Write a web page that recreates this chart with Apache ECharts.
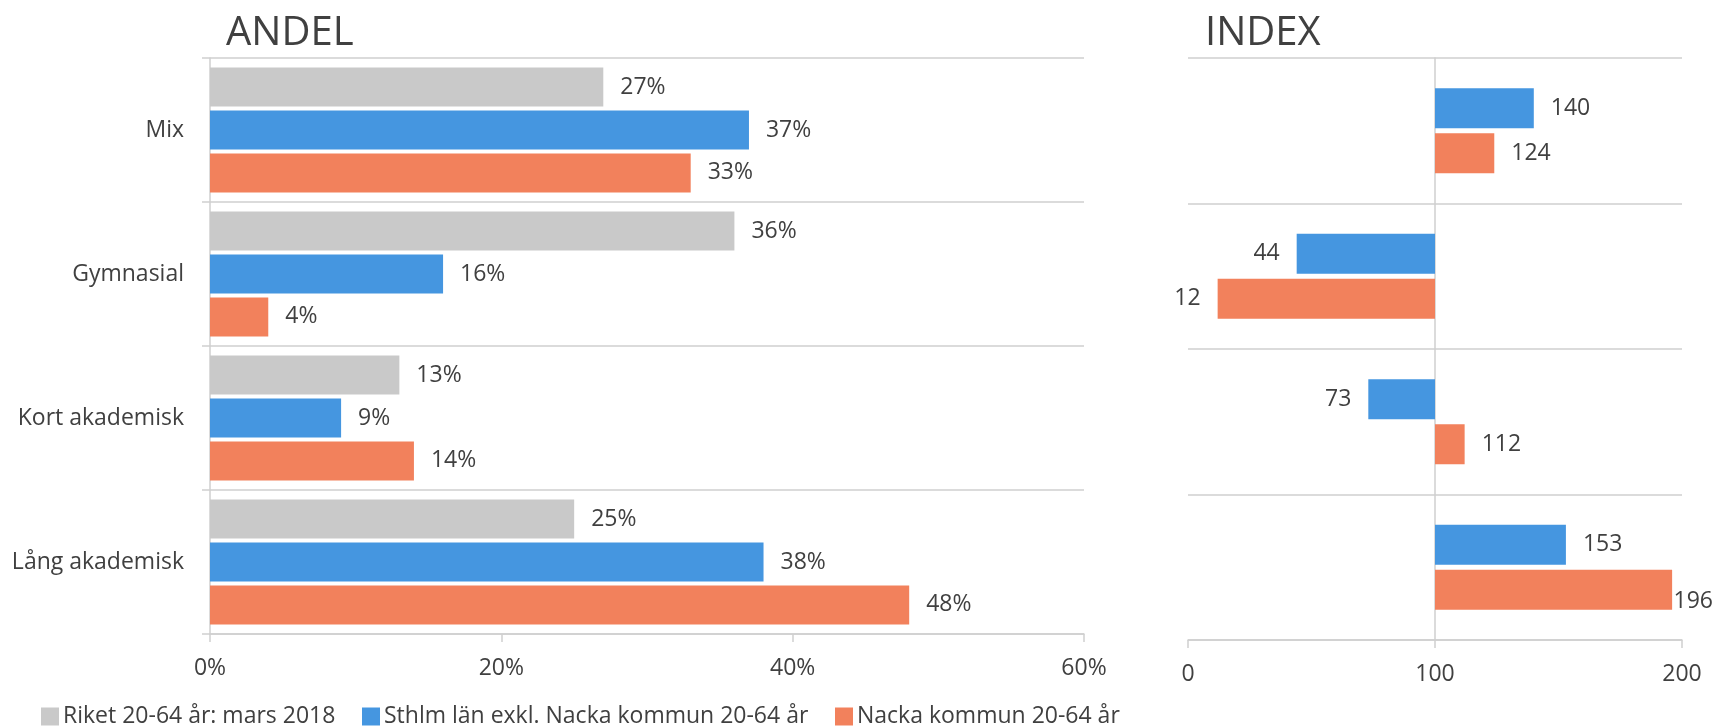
<!DOCTYPE html>
<html>
<head>
<meta charset="utf-8">
<script src="https://cdn.jsdelivr.net/npm/echarts@6/dist/echarts.min.js"></script>
<style>
  html, body { margin: 0; padding: 0; background: #ffffff; }
  #chart { width: 1716px; height: 728px; }
</style>
</head>
<body>
<div id="chart"></div>
<script>
// Utbildningsnivå: andel per grupp (%) och index (riket = 100)
const categories = ['Mix', 'Gymnasial', 'Kort akademisk', 'Lång akademisk'];
const seriesNames = [
  'Riket 20-64 år: mars 2018',
  'Sthlm län exkl. Nacka kommun 20-64 år',
  'Nacka kommun 20-64 år'
];
const andelRiket = [27, 36, 13, 25];
const andelSthlm = [37, 16, 9, 38];
const andelNacka = [33, 4, 14, 48];
const indexSthlm = [140, 44, 73, 153];
const indexNacka = [124, 12, 112, 196];
const andelTicks = [0, 20, 40, 60];
const indexTicks = [0, 100, 200];
const INDEX_BASE = 100;

const TEXT = '#404040';
const LINE = '#CFCFCF';
const FONT = '"Open Sans", "Noto Sans", sans-serif';
const colors = ['#C9C9C9', '#4596E0', '#F2815C'];

const chart = echarts.init(document.getElementById('chart'), null, { renderer: 'canvas' });

function andelSeries(name, values, color) {
  return {
    type: 'bar', name: name, xAxisIndex: 0, yAxisIndex: 0,
    data: values, barWidth: 39, barGap: '10%',
    itemStyle: { color: color },
    label: {
      show: true, position: 'right', distance: 17,
      fontFamily: FONT, fontSize: 23, color: TEXT,
      formatter: p => p.value + '%'
    },
    emphasis: { disabled: true }
  };
}

// Index bars grow from the base value (100) in either direction
function indexSeries(name, values, color) {
  return {
    type: 'bar', name: name, xAxisIndex: 1, yAxisIndex: 1,
    data: values.map(v => ({
      value: v - INDEX_BASE,
      label: { position: v >= INDEX_BASE ? 'right' : 'left' }
    })),
    barWidth: 40, barGap: '12%',
    itemStyle: { color: color },
    label: {
      show: true, distance: 17,
      fontFamily: FONT, fontSize: 23, color: TEXT,
      formatter: p => String(p.value + INDEX_BASE)
    },
    // keep labels inside the canvas, as close to the bar end as possible
    labelLayout: function (params) {
      const r = params.labelRect;
      const limit = chart.getWidth() - 3;
      if (r.x + r.width > limit) {
        return { x: limit - r.width, align: 'left' };
      }
    },
    emphasis: { disabled: true }
  };
}

function legendAt(left, name) {
  return {
    left: left, top: 700, orient: 'horizontal',
    itemWidth: 18, itemHeight: 18, icon: 'rect',
    selectedMode: false,
    data: [name],
    textStyle: { fontFamily: FONT, fontSize: 23, color: TEXT, padding: [0, 0, 0, -1] }
  };
}

const option = {
  backgroundColor: '#ffffff',
  animation: false,
  title: [
    { text: 'ANDEL', left: 221, top: 9,
      textStyle: { fontFamily: FONT, fontSize: 40, fontWeight: 'normal', color: TEXT } },
    { text: 'INDEX', left: 1200, top: 9,
      textStyle: { fontFamily: FONT, fontSize: 40, fontWeight: 'normal', color: TEXT } }
  ],
  legend: [
    legendAt(36, seriesNames[0]),
    legendAt(357, seriesNames[1]),
    legendAt(830, seriesNames[2])
  ],
  grid: [
    { left: 210, width: 874, top: 58, height: 576, containLabel: false },
    { left: 1188, width: 494, top: 58, height: 582, containLabel: false }
  ],
  xAxis: [
    {
      type: 'value', gridIndex: 0, position: 'bottom',
      min: andelTicks[0], max: andelTicks[andelTicks.length - 1],
      interval: andelTicks[1] - andelTicks[0],
      axisLine: { show: true, onZero: false, lineStyle: { color: LINE, width: 1.5 } },
      axisTick: { show: true, length: 8, inside: false, lineStyle: { color: LINE, width: 1.5 } },
      splitLine: { show: false },
      axisLabel: { show: true, margin: 23, fontFamily: FONT, fontSize: 23, color: TEXT,
        formatter: v => v + '%' }
    },
    {
      type: 'value', gridIndex: 1, position: 'bottom',
      min: indexTicks[0] - INDEX_BASE, max: indexTicks[indexTicks.length - 1] - INDEX_BASE,
      interval: indexTicks[1] - indexTicks[0],
      axisLine: { show: true, onZero: false, lineStyle: { color: LINE, width: 1.5 } },
      axisTick: { show: true, length: 8, inside: false, lineStyle: { color: LINE, width: 1.5 } },
      splitLine: { show: false },
      axisLabel: { show: true, margin: 23, fontFamily: FONT, fontSize: 23, color: TEXT,
        formatter: v => String(v + INDEX_BASE) }
    }
  ],
  yAxis: [
    {
      type: 'category', gridIndex: 0, data: categories, inverse: true,
      axisLine: { show: true, lineStyle: { color: LINE, width: 1.5 } },
      axisTick: { show: true, length: 8, inside: false, lineStyle: { color: LINE, width: 1.5 } },
      splitLine: { show: true, lineStyle: { color: LINE, width: 1.5 } },
      axisLabel: { show: true, margin: 26, fontFamily: FONT, fontSize: 23, color: TEXT }
    },
    {
      type: 'category', gridIndex: 1, data: categories, inverse: true,
      axisLine: { show: true, onZero: true, lineStyle: { color: LINE, width: 1.5 } },
      axisTick: { show: false },
      splitLine: { show: true, lineStyle: { color: LINE, width: 1.5 } },
      axisLabel: { show: false }
    }
  ],
  series: [
    andelSeries(seriesNames[0], andelRiket, colors[0]),
    andelSeries(seriesNames[1], andelSthlm, colors[1]),
    andelSeries(seriesNames[2], andelNacka, colors[2]),
    indexSeries(seriesNames[1], indexSthlm, colors[1]),
    indexSeries(seriesNames[2], indexNacka, colors[2])
  ]
};

chart.setOption(option);
</script>
</body>
</html>
